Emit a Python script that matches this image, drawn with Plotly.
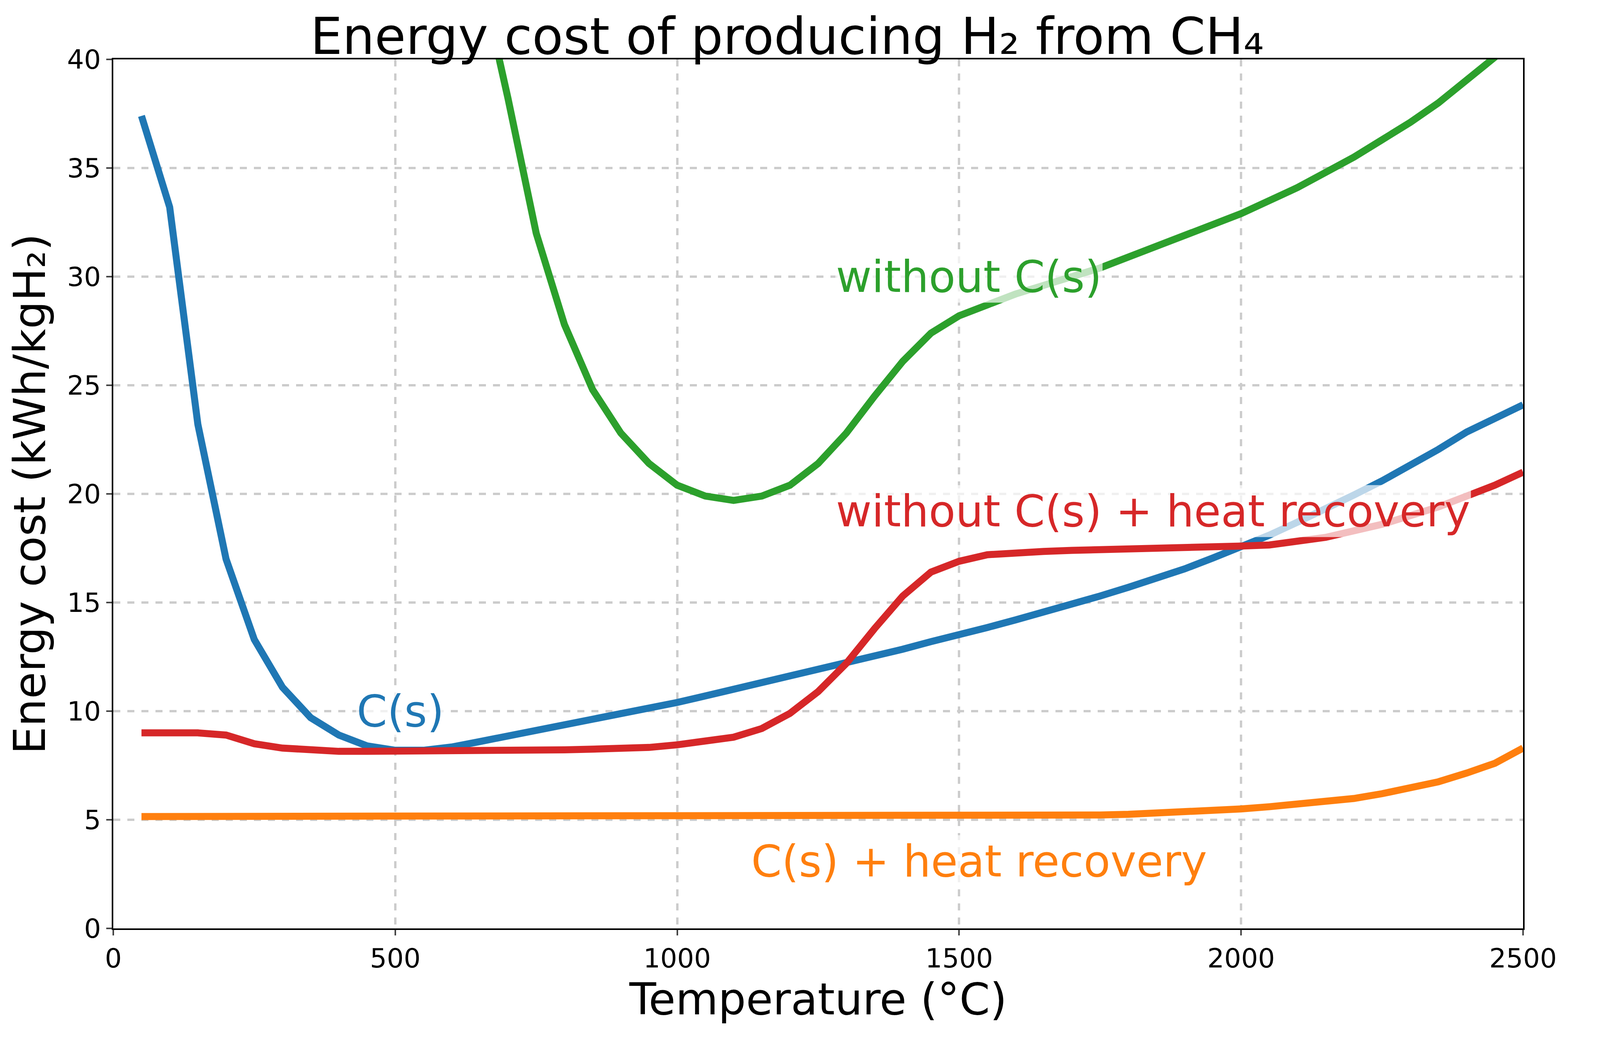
import plotly.graph_objects as go

temps = list(range(50, 2501, 50))
blue = [37.4,33.2,23.2,17.0,13.3,11.1,9.7,8.9,8.4,8.2,8.2,8.35,8.6,8.85,9.1,9.35,9.6,9.85,10.1,10.4,10.7,11.0,11.3,11.6,11.9,12.2,12.5,12.85,13.2,13.5,13.85,14.2,14.55,14.9,15.3,15.7,16.1,16.55,17.05,17.55,18.1,18.7,19.3,19.95,20.6,21.3,22.05,22.85,23.5,24.1]
red = [9.0,9.0,9.0,8.9,8.5,8.3,8.2,8.15,8.15,8.15,8.15,8.15,8.17,8.18,8.2,8.22,8.25,8.28,8.33,8.45,8.6,8.8,9.2,9.9,10.9,12.2,13.8,15.3,16.4,16.9,17.2,17.3,17.35,17.4,17.42,17.45,17.48,17.5,17.55,17.6,17.65,17.8,18.0,18.3,18.6,19.0,19.4,19.9,20.4,21.0]
green_t = list(range(650, 2501, 50))
green = [44.0,38.2,32.0,27.8,24.8,22.8,21.4,20.4,19.9,19.7,19.9,20.4,21.4,22.8,24.5,26.1,27.4,28.2,28.7,29.2,29.6,30.0,30.4,30.9,31.4,31.9,32.4,32.9,33.5,34.1,34.8,35.5,36.3,37.1,38.0,39.0,40.1,41.2]
orange = [5.15]*32 + [5.17,5.2,5.22,5.25,5.3,5.35,5.42,5.5,5.6,5.7,5.82,5.98,6.2,6.45,6.75,7.15,7.6,8.3]

fig = go.Figure()
lw = 18
fig.add_trace(go.Scatter(x=temps, y=blue, mode="lines", line=dict(color="#1f77b4", width=lw)))
fig.add_trace(go.Scatter(x=temps, y=orange, mode="lines", line=dict(color="#ff7f0e", width=lw)))
fig.add_trace(go.Scatter(x=green_t, y=green, mode="lines", line=dict(color="#2ca02c", width=lw)))
fig.add_trace(go.Scatter(x=temps, y=red, mode="lines", line=dict(color="#d62728", width=lw)))

labels = [("C(s)", 430, 10, "#1f77b4"), ("without C(s)", 1280, 30, "#2ca02c"),
          ("without C(s) + heat recovery", 1280, 19.2, "#d62728"), ("C(s) + heat recovery", 1130, 3.1, "#ff7f0e")]
for t, x, y, c in labels:
    fig.add_annotation(x=x, y=y, text=t, showarrow=False, xanchor="left", yanchor="middle",
                       font=dict(size=112, color=c), bgcolor="rgba(255,255,255,0.7)")

axis = dict(showline=True, linecolor="black", linewidth=4, mirror=True, ticks="outside",
            ticklen=14, tickwidth=4, showgrid=True, gridcolor="#cccccc", griddash="dash",
            gridwidth=6, zeroline=False, tickfont=dict(size=68, color="black"))
fig.update_layout(
    autosize=True, showlegend=False, plot_bgcolor="white", paper_bgcolor="white",
    font=dict(family="DejaVu Sans", color="black"),
    margin=dict(l=282, r=123, t=144, b=251),
    title=dict(text="Energy cost of producing H₂ from CH₄", x=0.5, xanchor="center", y=0.985, yanchor="top", font=dict(size=130)),
    xaxis=dict(axis, range=[0, 2500], dtick=500, title=dict(text="Temperature (°C)", font=dict(size=112))),
    yaxis=dict(axis, range=[0, 40], dtick=5, title=dict(text="Energy cost (kWh/kgH₂)", font=dict(size=112), standoff=20)),
)
fig.write_html("out.html", default_width="98vw", default_height="97vh")
